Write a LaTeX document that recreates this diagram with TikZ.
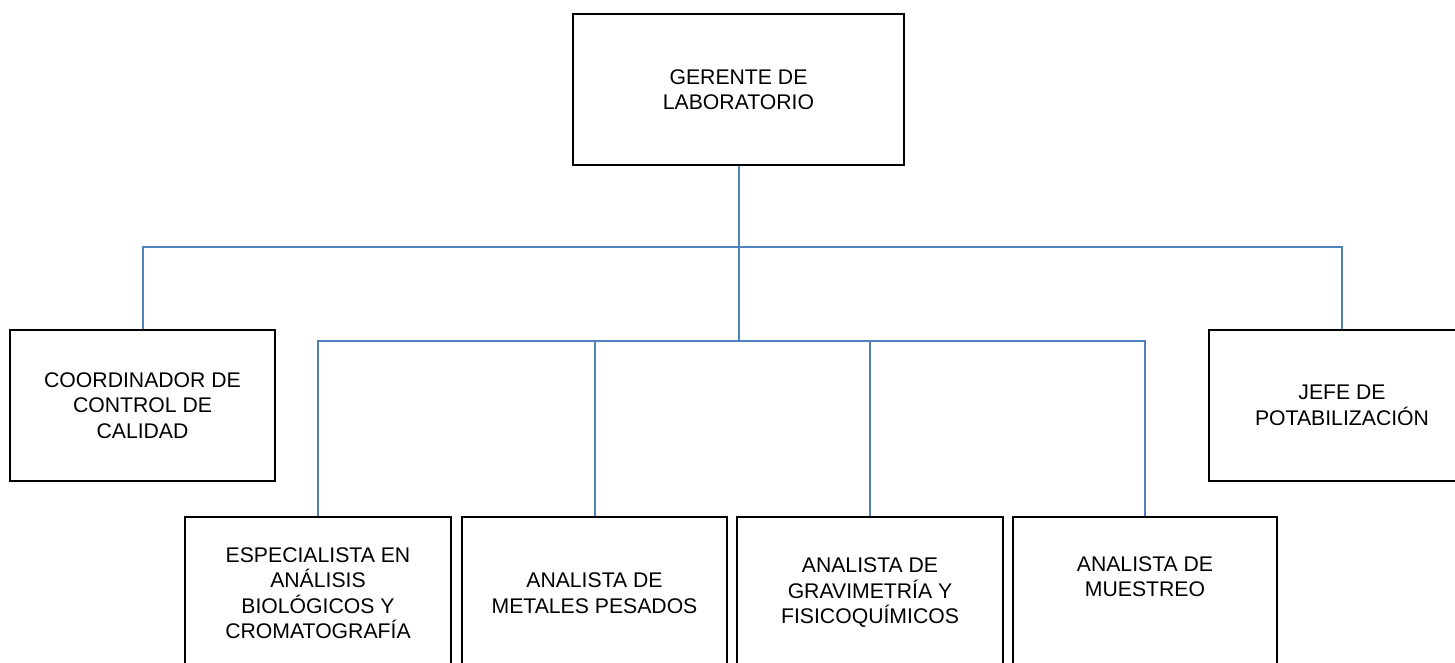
\documentclass[tikz,border=0pt]{standalone}
\usepackage{fontspec}
\setmainfont{Liberation Sans}
\begin{document}
\begin{tikzpicture}[x=1pt,y=-1pt,
  box/.style={draw=black, line width=2.4pt, fill=white, inner sep=0pt,
    align=center, font=\fontsize{21.2}{25.5}\selectfont},
  conn/.style={draw={rgb,255:red,79;green,129;blue,189}, line width=2pt}]
\useasboundingbox (0,0) rectangle (1455,663);
\clip (0,0) rectangle (1455,663);
\node[box, minimum width=331pt, minimum height=151pt] (ger) at (738.5,89.5) {GERENTE DE\\LABORATORIO};
\node[box, minimum width=265pt, minimum height=151pt] (coord) at (142.5,405.5) {COORDINADOR DE\\CONTROL DE\\CALIDAD};
\node[box, minimum width=266pt, minimum height=151pt] (jefe) at (1342,405.5) {JEFE DE\\POTABILIZACIÓN};
\node[box, minimum width=266pt, minimum height=152pt] (esp) at (318,593) {ESPECIALISTA EN\\ANÁLISIS\\BIOLÓGICOS Y\\CROMATOGRAFÍA};
\node[box, minimum width=265pt, minimum height=152pt] (met) at (594.5,593) {ANALISTA DE\\METALES PESADOS};
\node[box, minimum width=266pt, minimum height=152pt] (gra) at (870,593) {ANALISTA DE\\GRAVIMETRÍA Y\\FISICOQUÍMICOS};
\node[box, minimum width=264pt, minimum height=152pt] (mue) at (1145,593) {ANALISTA DE\\MUESTREO\\\strut};
\coordinate (h1) at (738.5,247);
\coordinate (h2) at (738.5,341);
\draw[conn] (ger.south) -- (h2);
\draw[conn] (coord.north) |- (h1) -| (jefe.north);
\draw[conn] (esp.north) |- (h2) -| (mue.north);
\draw[conn] (met.north) -- (met.north |- h2);
\draw[conn] (gra.north) -- (gra.north |- h2);
\end{tikzpicture}
\end{document}
